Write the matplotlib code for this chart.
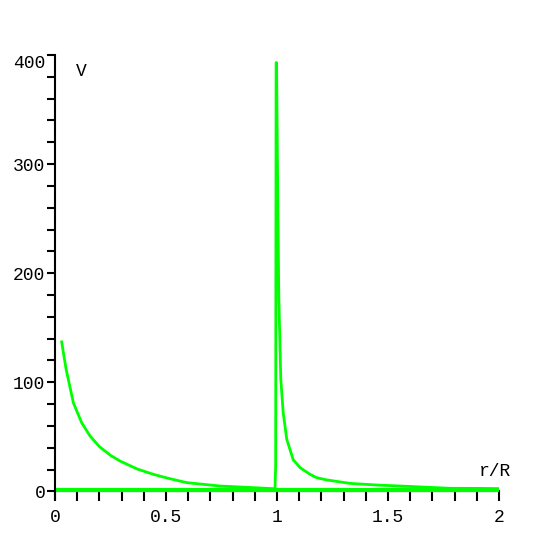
import matplotlib
matplotlib.use("Agg")
import matplotlib.pyplot as plt
from matplotlib.ticker import MultipleLocator, FixedFormatter, FixedLocator

# values
inner_r = [0.03, 0.05, 0.083, 0.12, 0.158, 0.2, 0.25, 0.293, 0.37, 0.443,
           0.5, 0.593, 0.743, 0.893, 0.98]
inner_v = [137, 112, 81, 63, 50.7, 41, 33, 27.8, 20.5, 15.6,
           12.5, 8, 4.9, 3.4, 2.5]

outer_r = [0.985, 0.991, 0.994, 0.996, 0.998, 1.002, 1.008, 1.017, 1.028, 1.044,
           1.073, 1.104, 1.149, 1.179, 1.224, 1.329, 1.45, 1.554, 1.78, 1.914, 2.0]
outer_v = [1.5, 3, 23, 393, 393, 300, 180, 103, 72, 47.7,
           29, 21.7, 15.6, 12.5, 10.5, 7.3, 5.8, 4.9, 2.8, 2.7, 2.5]

base_r = [0, 2]
base_v = [1.2, 1.2]

xticks = [0, 0.5, 1, 1.5, 2]
xlabels = ["0", "0.5", "1", "1.5", "2"]
yticks = [0, 100, 200, 300, 400]
ylabels = ["0", "100", "200", "300", "400"]

green = "#00ff00"
font = "Liberation Mono"

fig = plt.figure(figsize=(5.56, 5.56), dpi=100)
ax = fig.add_axes([55 / 556, (556 - 499) / 556, 444 / 556, 444 / 556])

ax.plot(base_r, base_v, color=green, lw=3, zorder=2)
ax.plot(inner_r, inner_v, color=green, lw=2, zorder=3)
ax.plot(outer_r, outer_v, color=green, lw=2, zorder=3)

ax.set_xlim(0, 2)
ax.set_ylim(-7, 400)

for s in ["top", "right"]:
    ax.spines[s].set_visible(False)
ax.spines["bottom"].set_position(("data", 0))
ax.spines["bottom"].set_zorder(1)
ax.spines["left"].set_linewidth(1.5)
ax.spines["bottom"].set_linewidth(1.5)

ax.xaxis.set_major_locator(FixedLocator(xticks))
ax.xaxis.set_major_formatter(FixedFormatter(xlabels))
ax.xaxis.set_minor_locator(MultipleLocator(0.1))
ax.yaxis.set_major_locator(FixedLocator(yticks))
ax.yaxis.set_major_formatter(FixedFormatter(ylabels))
ax.yaxis.set_minor_locator(MultipleLocator(20))

ax.tick_params(axis="x", which="both", direction="out", length=7, width=1.5, pad=6)
ax.tick_params(axis="y", which="both", direction="out", length=6, width=1.5, pad=1)
for lab in ax.get_xticklabels() + ax.get_yticklabels():
    lab.set_fontfamily(font)
    lab.set_fontsize(13)
# top label sits just under its tick, as in the original
ax.get_yticklabels()[-1].set_va("top")

ax.text(0.12, 385, "V", fontfamily=font, fontsize=13, ha="center", va="center")
ax.text(1.98, 18, "r/R", fontfamily=font, fontsize=13, ha="center", va="center")

fig.savefig("out.png", dpi=100)
